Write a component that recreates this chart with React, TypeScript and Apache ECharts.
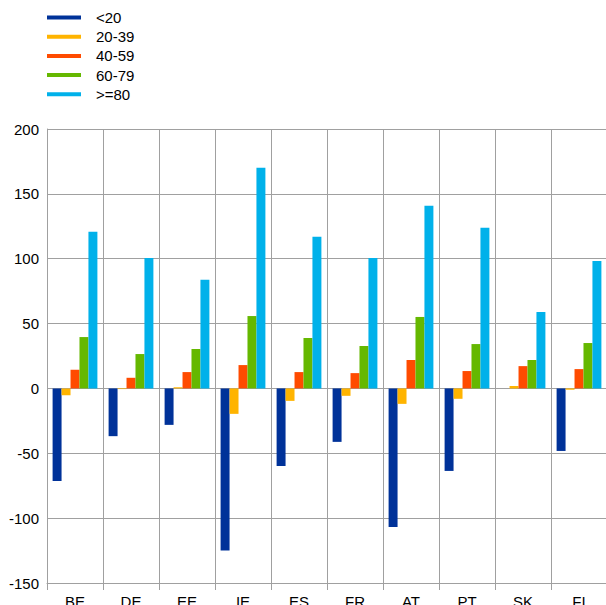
import React, { useEffect, useRef } from "react";
import * as echarts from "echarts";

const categories = ["BE", "DE", "EE", "IE", "ES", "FR", "AT", "PT", "SK", "FI"];
const seriesNames = ["<20", "20-39", "40-59", "60-79", ">=80"];
const under20 = [-71.4, -36.8, -28.1, -124.9, -59.8, -41.2, -106.9, -63.6, 0, -48.2];
const age20to39 = [-5.2, -0.5, 0.9, -19.6, -9.6, -5.7, -11.9, -8.0, 1.8, -1.0];
const age40to59 = [14.4, 8.2, 12.6, 18.0, 12.6, 11.8, 21.9, 13.4, 17.2, 14.9];
const age60to79 = [39.6, 26.5, 30.4, 55.8, 38.9, 32.7, 55.1, 34.2, 21.9, 35.0];
const age80plus = [120.7, 100.6, 83.7, 170.2, 116.9, 100.6, 140.8, 123.9, 58.9, 98.3];
const seriesData = [under20, age20to39, age40to59, age60to79, age80plus];
const colors = ["#003299", "#ffb400", "#ff4b00", "#65b800", "#00b1ea"];

const FONT = "Liberation Sans";
const GRID_COLOR = "#a0a0a0";

export default function App() {
  const ref = useRef<HTMLDivElement>(null);
  useEffect(() => {
    if (!ref.current) return;
    const chart = echarts.init(ref.current, undefined, { renderer: "svg" });
    chart.setOption({
      animation: false,
      color: colors,
      textStyle: { fontFamily: FONT },
      legend: {
        orient: "vertical",
        left: 47,
        top: 10,
        icon: "rect",
        itemWidth: 34,
        itemHeight: 4,
        itemGap: 4.2,
        padding: 0,
        textStyle: {
          fontFamily: FONT,
          fontSize: 15,
          color: "#000",
          lineHeight: 15,
          padding: [0, 0, 0, 10],
        },
        data: seriesNames,
      },
      grid: {
        left: 47,
        top: 129,
        width: 560,
        height: 454,
        containLabel: false,
        outerBoundsMode: "none",
      },
      xAxis: {
        type: "category",
        data: categories,
        axisLine: { onZero: false, lineStyle: { color: GRID_COLOR, width: 1 } },
        axisTick: { show: true, length: 7, lineStyle: { color: GRID_COLOR } },
        splitLine: { show: true, interval: 0, lineStyle: { color: GRID_COLOR, width: 1 } },
        axisLabel: { fontFamily: FONT, fontSize: 15, color: "#000", margin: 11, interval: 0 },
      },
      yAxis: {
        type: "value",
        min: -150,
        max: 200,
        interval: 50,
        axisLine: { show: true, lineStyle: { color: GRID_COLOR, width: 1 } },
        axisTick: { show: false },
        splitLine: { show: true, lineStyle: { color: GRID_COLOR, width: 1 } },
        axisLabel: { fontFamily: FONT, fontSize: 15, color: "#000", margin: 8 },
      },
      series: seriesNames.map((name, i) => ({
        name,
        type: "bar",
        data: seriesData[i],
        barGap: "0%",
        barCategoryGap: "20%",
        itemStyle: { color: colors[i] },
      })),
    });
    return () => chart.dispose();
  }, []);
  return (
    <div
      ref={ref}
      style={{ position: "absolute", left: 0, top: 0, width: 606, height: 605, background: "#fff" }}
    />
  );
}
